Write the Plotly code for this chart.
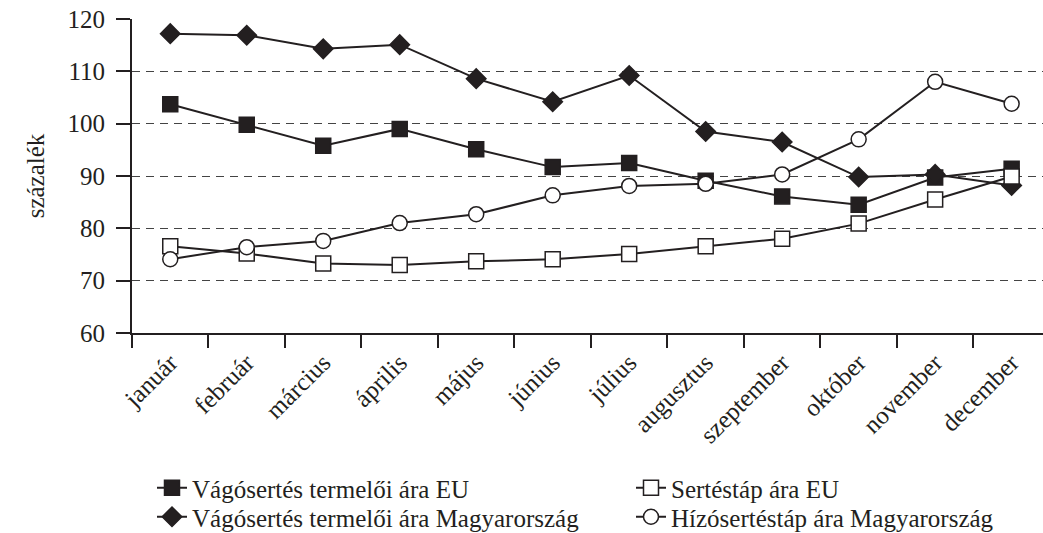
import plotly.graph_objects as go

months = ['január', 'február', 'március', 'április', 'május', 'június',
          'július', 'augusztus', 'szeptember', 'október', 'november', 'december']

# Vágósertés termelői ára EU
vago_eu = [103.7, 99.8, 95.8, 99.0, 95.1, 91.7, 92.5, 89.1, 86.1, 84.5, 89.7, 91.4]
# Vágósertés termelői ára Magyarország
vago_hu = [117.2, 116.9, 114.3, 115.1, 108.6, 104.2, 109.2, 98.5, 96.5, 89.8, 90.3, 88.2]
# Sertéstáp ára EU
tap_eu = [76.6, 75.2, 73.3, 73.0, 73.7, 74.1, 75.1, 76.6, 78.0, 80.9, 85.5, 89.9]
# Hízósertéstáp ára Magyarország
tap_hu = [74.1, 76.4, 77.6, 81.0, 82.7, 86.3, 88.1, 88.5, 90.3, 97.0, 108.0, 103.8]

ink = '#231f20'
font = 'Liberation Serif, Times New Roman, serif'
fs = 25
W, H = 1043, 533
L, T, B = 132, 19, 200
PW, PH = W - L, H - T - B

fig = go.Figure()

# name, values, marker symbol, fill, legend id
series = [
    ('Vágósertés termelői ára EU', vago_eu, 'square', ink, 'legend'),
    ('Vágósertés termelői ára Magyarország', vago_hu, 'diamond', ink, 'legend2'),
    ('Sertéstáp ára EU', tap_eu, 'square', 'white', 'legend3'),
    ('Hízósertéstáp ára Magyarország', tap_hu, 'circle', 'white', 'legend4'),
]

for name, vals, sym, fill, leg in series:
    fig.add_trace(go.Scatter(
        x=months,
        y=vals,
        name=name,
        legend=leg,
        mode='lines+markers',
        line=dict(color=ink, width=2),
        marker=dict(symbol=sym, size=15, color=fill,
                    line=dict(color=ink, width=1.5))
    ))


def legend_at(px, py):
    # single-entry legend, left edge px and centre py in page pixels
    return dict(
        x=(px - L) / PW, xanchor='left',
        y=(H - B - py) / PH, yanchor='middle',
        font=dict(size=fs, family=font, color=ink),
        itemwidth=30,
        bgcolor='rgba(0,0,0,0)',
    )


fig.update_layout(
    width=W,
    height=H,
    margin=dict(l=L, r=0, t=T, b=B, autoexpand=False),
    plot_bgcolor='white',
    paper_bgcolor='white',
    font=dict(family=font, size=fs, color=ink),
    showlegend=True,
    legend=legend_at(152, 488),
    legend2=legend_at(152, 517),
    legend3=legend_at(631, 488),
    legend4=legend_at(631, 517),
    xaxis=dict(
        type='category',
        range=[-0.5, 11.41],
        tickson='boundaries',
        ticks='outside',
        ticklen=13,
        tickwidth=2,
        tickcolor=ink,
        showline=True,
        linewidth=2,
        linecolor=ink,
        showgrid=False,
        tickangle=-45,
        ticklabelstandoff=3,
        tickfont=dict(size=25),
        automargin=False,
    ),
    yaxis=dict(
        range=[60, 120],
        tickvals=[60, 70, 80, 90, 100, 110, 120],
        ticks='outside',
        ticklen=14,
        tickwidth=2,
        tickcolor=ink,
        showline=True,
        linewidth=2,
        linecolor=ink,
        showgrid=True,
        gridcolor='#444444',
        gridwidth=1.3,
        griddash='8px,6px',
        zeroline=False,
        ticklabelstandoff=6,
        tickfont=dict(size=fs),
        title=dict(text='százalék', font=dict(size=fs), standoff=16),
        automargin=False,
    ),
)

# the page body has a default 8px margin; drop it so the figure fills the window
fig.write_html('out.html', config={'displayModeBar': False},
               post_script="document.body.style.margin='0';")
